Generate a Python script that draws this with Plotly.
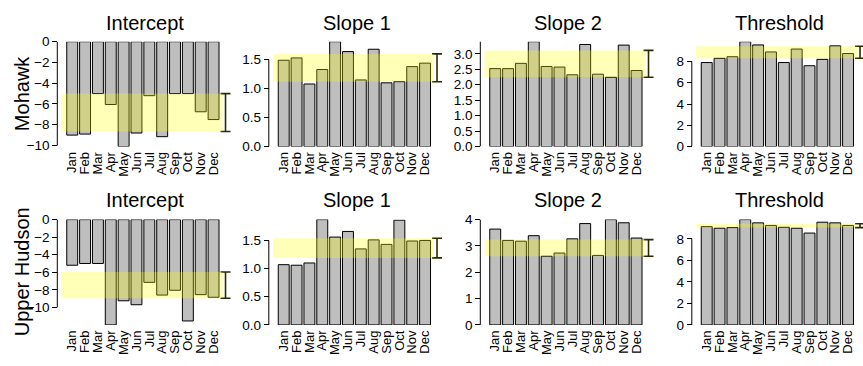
import plotly.graph_objects as go

# ---------------- data ----------------
months = ["Jan", "Feb", "Mar", "Apr", "May", "Jun", "Jul", "Aug", "Sep", "Oct", "Nov", "Dec"]
row_names = ["Mohawk", "Upper Hudson"]
panel_titles = ["Intercept", "Slope 1", "Slope 2", "Threshold"]

mohawk_intercept = [-9.0, -8.9, -5.0, -6.05, -10.1, -8.8, -5.2, -9.15, -5.0, -5.0, -6.75, -7.5]
mohawk_slope1 = [1.49, 1.53, 1.08, 1.33, 1.81, 1.64, 1.15, 1.68, 1.10, 1.12, 1.38, 1.44]
mohawk_slope2 = [2.52, 2.52, 2.69, 3.39, 2.59, 2.57, 2.32, 3.30, 2.34, 2.24, 3.28, 2.46]
mohawk_threshold = [7.9, 8.3, 8.45, 9.86, 9.56, 8.9, 7.9, 9.17, 7.6, 8.2, 9.47, 8.75]

upper_intercept = [-5.2, -5.0, -5.0, -12.0, -9.25, -9.7, -7.15, -8.6, -8.05, -11.55, -8.55, -8.85]
upper_slope1 = [1.07, 1.06, 1.10, 1.87, 1.56, 1.66, 1.35, 1.51, 1.43, 1.86, 1.49, 1.50]
upper_slope2 = [3.64, 3.21, 3.18, 3.39, 2.61, 2.73, 3.27, 3.85, 2.64, 4.0, 3.88, 3.30]
upper_threshold = [9.13, 8.98, 9.04, 9.78, 9.48, 9.24, 9.07, 8.98, 8.53, 9.54, 9.48, 9.24]

# reference ranges (yellow band / bracket): (low, high)
mohawk_bands = [(-8.65, -5.0), (1.12, 1.60), (2.24, 3.11), (8.30, 9.44)]
upper_bands = [(-8.97, -5.97), (1.19, 1.54), (2.61, 3.24), (9.04, 9.39)]

# tick values
intercept_ticks = [0, -2, -4, -6, -8, -10]
slope1_ticks = [0.0, 0.5, 1.0, 1.5]
mohawk_slope2_ticks = [0.0, 0.5, 1.0, 1.5, 2.0, 2.5, 3.0, 3.5]
upper_slope2_ticks = [0, 1, 2, 3, 4]
threshold_ticks = [0, 2, 4, 6, 8]

series = [
    [mohawk_intercept, mohawk_slope1, mohawk_slope2, mohawk_threshold],
    [upper_intercept, upper_slope1, upper_slope2, upper_threshold],
]
bands = [mohawk_bands, upper_bands]
ticks = [
    [intercept_ticks, slope1_ticks, mohawk_slope2_ticks, threshold_ticks],
    [intercept_ticks, slope1_ticks, upper_slope2_ticks, threshold_ticks],
]
tick_formats = [["d", ".1f", ".1f", "d"], ["d", ".1f", "d", "d"]]

# ---------------- layout geometry (pixels) ----------------
W, H = 863, 366
FONT = "Liberation Sans, Arial, Helvetica, sans-serif"
col_left = [61.3, 272.8, 484.3, 695.8]
row_top = [36.2, 221.7]
row_bot = [145.5, 331.5]
unit_px = 12.85          # px per month slot
x_start = -0.85          # slot units at the left edge of plot region
band_right = 11.7
bracket_x = 11.93
dom_w = 172

BAR_FILL = "#BEBEBE"
BAND = "rgba(255,255,0,0.28)"
BRACKET = "#2a2a00"

month_pos = list(range(len(months)))

fig = go.Figure()
shapes = []
annotations = []

for r in range(2):
    for c in range(4):
        idx = r * 4 + c + 1
        xs = "x" if idx == 1 else f"x{idx}"
        ys = "y" if idx == 1 else f"y{idx}"
        xk = "xaxis" if idx == 1 else f"xaxis{idx}"
        yk = "yaxis" if idx == 1 else f"yaxis{idx}"
        vals = series[r][c]
        lo, hi = bands[r][c]
        tv = ticks[r][c]

        left = col_left[c]
        right = min(left + dom_w, W)
        x_end = x_start + (right - left) / unit_px

        fig.add_trace(go.Bar(
            x=month_pos, y=vals, xaxis=xs, yaxis=ys, width=0.85,
            marker=dict(color=BAR_FILL, line=dict(color="black", width=1)),
            showlegend=False, hoverinfo="skip",
        ))
        # bracket (error bar spanning the reference range)
        fig.add_trace(go.Scatter(
            x=[bracket_x], y=[lo], xaxis=xs, yaxis=ys, mode="markers",
            marker=dict(size=0.1, color="rgba(0,0,0,0)"),
            error_y=dict(type="data", symmetric=False, array=[hi - lo], arrayminus=[0],
                         width=5, thickness=1.6, color=BRACKET),
            showlegend=False, hoverinfo="skip",
        ))

        ymin = min(min(vals), 0)
        ymax = max(max(vals), 0)
        fig.layout[xk] = dict(
            domain=[left / W, right / W], range=[x_start, x_end], type="linear",
            anchor=ys, showline=False, showgrid=False, zeroline=False, ticks="",
            tickmode="array", tickvals=month_pos, ticktext=months,
            tickangle=-90, tickfont=dict(family=FONT, size=13, color="black"),
            ticklabelstandoff=2, fixedrange=True,
        )
        fig.layout[yk] = dict(
            domain=[1 - row_bot[r] / H, 1 - row_top[r] / H], range=[ymin, ymax],
            anchor="free", position=(left - 4) / W, showline=False, showgrid=False,
            zeroline=False, ticks="outside", ticklen=5, tickwidth=1, tickcolor="black",
            tickvals=tv, tickformat=tick_formats[r][c], fixedrange=True,
            tickfont=dict(family=FONT, size=13.5, color="black"),
        )
        # axis spine between first and last tick
        shapes.append(dict(type="line", xref="paper", yref=ys,
                           x0=(left - 4) / W, x1=(left - 4) / W, y0=tv[0], y1=tv[-1],
                           line=dict(color="black", width=1)))
        # yellow reference band
        shapes.append(dict(type="rect", xref=xs, yref=ys, x0=x_start, x1=band_right,
                           y0=lo, y1=hi, fillcolor=BAND, line=dict(width=0), layer="above"))
        # panel title
        title_y = [16.5, 201.5][r]
        annotations.append(dict(text=panel_titles[c], xref="paper", yref="paper",
                                x=(left + 84) / W, y=1 - title_y / H, showarrow=False,
                                xanchor="center", yanchor="middle",
                                font=dict(family=FONT, size=20, color="black")))
    annotations.append(dict(text=row_names[r], xref="paper", yref="paper",
                            x=22 / W, y=1 - (row_top[r] + row_bot[r]) / 2 / H,
                            textangle=-90, showarrow=False, xanchor="center", yanchor="middle",
                            font=dict(family=FONT, size=20, color="black")))

fig.update_layout(
    width=W, height=H, margin=dict(l=0, r=0, t=0, b=0),
    paper_bgcolor="white", plot_bgcolor="white",
    shapes=shapes, annotations=annotations,
    font=dict(family=FONT, color="black"),
)

fig.write_html(
    "out.html",
    config={"displayModeBar": False, "staticPlot": True},
    post_script="document.body.style.margin='0';document.body.style.overflow='hidden';",
)
